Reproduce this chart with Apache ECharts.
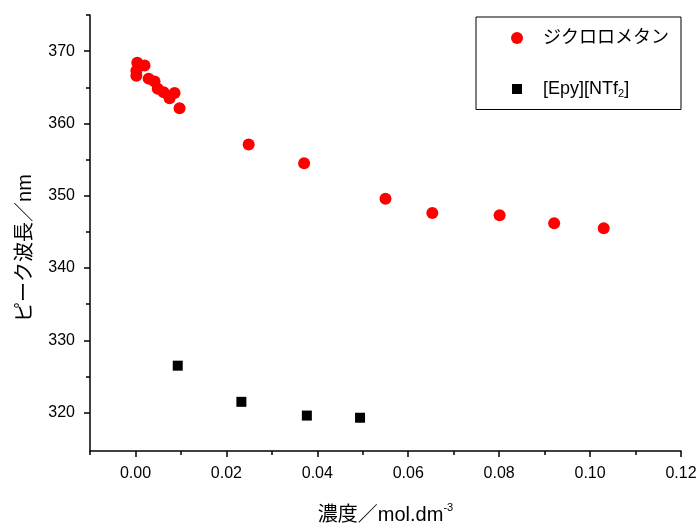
<!DOCTYPE html>
<html>
<head>
<meta charset="utf-8">
<script src="https://cdn.jsdelivr.net/npm/echarts@6/dist/echarts.min.js"></script>
<style>html,body{margin:0;padding:0;background:#fff}#c{width:700px;height:527px}</style>
</head>
<body>
<div id="c"></div>
<script>
// ---- data ----
const dcmName = 'ジクロロメタン';
const ilName = '[Epy][NTf2]';
const dcmX = [0.0004, 0.0020, 0.0002, 0.0002, 0.0029, 0.0042, 0.0049, 0.0062, 0.0075, 0.0086, 0.0097, 0.0249, 0.0371, 0.0550, 0.0653, 0.0801, 0.0921, 0.1030];
const dcmY = [368.4, 368.0, 367.3, 366.6, 366.2, 365.8, 364.8, 364.3, 363.5, 364.2, 362.1, 357.1, 354.5, 349.6, 347.6, 347.3, 346.2, 345.5];
const ilX = [0.0093, 0.0233, 0.0377, 0.0494];
const ilY = [326.5, 321.5, 319.6, 319.3];
const xMajorTicks = [0, 0.02, 0.04, 0.06, 0.08, 0.10, 0.12];
const xMinorTicks = [-0.01, 0.01, 0.03, 0.05, 0.07, 0.09, 0.11];
const yMajorTicks = [320, 330, 340, 350, 360, 370];
const yMinorTicks = [325, 335, 345, 355, 365, 375];
const xRange = [-0.01, 0.12];
const yRange = [314.7, 375];

const FONT = "'Liberation Sans', Arial, 'Noto Sans CJK JP', sans-serif";
const chart = echarts.init(document.getElementById('c'));
const axisLine = {show: true, onZero: false, lineStyle: {color: '#000', width: 1.5}};
chart.setOption({
  animation: false,
  backgroundColor: '#fff',
  grid: {left: 90, right: 19, top: 15, bottom: 76, outerBoundsMode: 'none', containLabel: false},
  xAxis: [{
    type: 'value', min: xRange[0], max: xRange[1],
    axisLine: axisLine, splitLine: {show: false},
    axisTick: {show: true, customValues: xMajorTicks, length: 6, inside: false, lineStyle: {color: '#000', width: 1.5}},
    axisLabel: {customValues: xMajorTicks, formatter: v => v.toFixed(2), fontSize: 16, color: '#000', fontFamily: FONT, margin: 15},
    name: '濃度／mol.dm{sup|-3}', nameLocation: 'middle', nameGap: 51,
    nameTextStyle: {fontSize: 20, color: '#000', fontFamily: FONT, lineHeight: 26,
      rich: {sup: {fontSize: 11, verticalAlign: 'top', lineHeight: 26, fontFamily: FONT, color: '#000'}}}
  }, {
    type: 'value', min: xRange[0], max: xRange[1], position: 'bottom',
    axisLine: {show: false, onZero: false}, splitLine: {show: false}, axisLabel: {show: false},
    axisTick: {show: true, customValues: xMinorTicks, length: 4, lineStyle: {color: '#000', width: 1.5}}
  }],
  yAxis: [{
    type: 'value', min: yRange[0], max: yRange[1],
    axisLine: axisLine, splitLine: {show: false},
    axisTick: {show: true, customValues: yMajorTicks, length: 6, lineStyle: {color: '#000', width: 1.5}},
    axisLabel: {customValues: yMajorTicks, fontSize: 16, color: '#000', fontFamily: FONT, margin: 15},
    name: 'ピーク波長／nm', nameLocation: 'middle', nameGap: 55, nameRotate: 90,
    nameTextStyle: {fontSize: 20, color: '#000', fontFamily: FONT, padding: [0, 30, 0, 0]}
  }, {
    type: 'value', min: yRange[0], max: yRange[1], position: 'left',
    axisLine: {show: false, onZero: false}, splitLine: {show: false}, axisLabel: {show: false},
    axisTick: {show: true, customValues: yMinorTicks, length: 4, lineStyle: {color: '#000', width: 1.5}}
  }],
  legend: {
    orient: 'vertical', left: 476, top: 17,
    padding: [12, 12, 10, 35], itemGap: 33, itemWidth: 42, itemHeight: 12,
    borderColor: '#000', borderWidth: 1, borderRadius: 0,
    textStyle: {fontSize: 18, color: '#000', fontFamily: FONT,
      rich: {sub: {fontSize: 11, verticalAlign: 'bottom', fontFamily: FONT, color: '#000', padding: [10, 0, 0, 0]}}},
    formatter: n => n === ilName ? '[Epy][NTf{sub|2}]' : n,
    data: [{name: dcmName, icon: 'circle'}, {name: ilName, icon: 'path://M0,0M12,12M1,1h10v10h-10z'}]
  },
  series: [{
    name: dcmName, type: 'scatter', xAxisIndex: 0, yAxisIndex: 0,
    symbol: 'circle', symbolSize: 12, itemStyle: {color: '#ff0000', opacity: 1},
    data: dcmX.map((x, i) => [x, dcmY[i]])
  }, {
    name: ilName, type: 'scatter', xAxisIndex: 0, yAxisIndex: 0,
    symbol: 'rect', symbolSize: 10, itemStyle: {color: '#000', opacity: 1},
    data: ilX.map((x, i) => [x, ilY[i]])
  }]
});
</script>
</body>
</html>
